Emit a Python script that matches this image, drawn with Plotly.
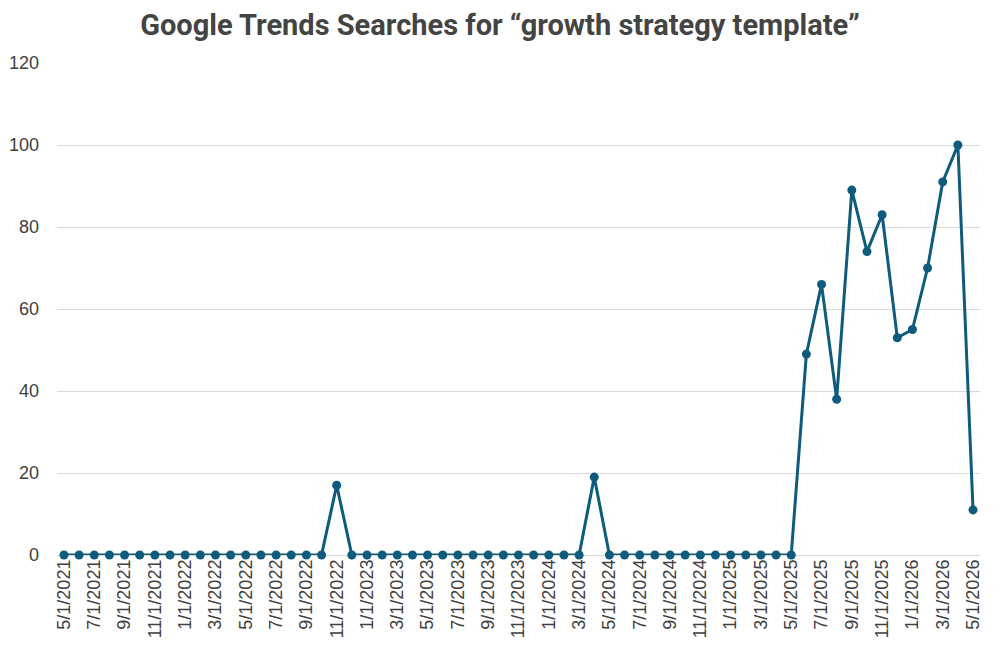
import plotly.graph_objects as go

months = []
y, m = 2021, 5
for _ in range(61):
    months.append(f"{m}/1/{y}")
    m += 1
    if m > 12:
        m = 1
        y += 1

values = ([0] * 18 + [17] + [0] * 16 + [19] + [0] * 13 +
          [49, 66, 38, 89, 74, 83, 53, 55, 70, 91, 100, 11])

tick_labels = months[::2]
y_ticks = [0, 20, 40, 60, 80, 100, 120]

x_idx = list(range(len(months)))

fig = go.Figure()
fig.add_trace(go.Scatter(
    x=x_idx, y=values, mode="lines+markers",
    line=dict(color="#0E5B7C", width=3),
    marker=dict(color="#0E5B7C", size=9),
    cliponaxis=False,
    hovertext=months,
))

fig.update_layout(
    width=1000, height=654,
    margin=dict(l=57, r=20, t=63, b=99),
    paper_bgcolor="white", plot_bgcolor="white",
    title=dict(
        text="<b>Google Trends Searches for \u201cgrowth strategy template\u201d</b>",
        x=0.5, xanchor="center", y=0.962, yanchor="middle",
        font=dict(family="Roboto, sans-serif", size=29, color="#444444"),
    ),
    showlegend=False,
    xaxis=dict(
        range=[-0.46, 60.46],
        tickmode="array",
        tickvals=x_idx[::2],
        ticktext=tick_labels,
        tickangle=-90,
        tickfont=dict(family="Liberation Sans", size=18, color="#404040"),
        showgrid=False, zeroline=False, showline=False,
        ticks="", automargin=False,
    ),
    yaxis=dict(
        range=[0, 120],
        tickvals=y_ticks,
        tickfont=dict(family="Liberation Sans", size=18, color="#404040"),
        showgrid=True, gridcolor="#D9D9D9", gridwidth=1,
        zeroline=True, zerolinecolor="#D9D9D9", zerolinewidth=1,
        showline=False, ticks="", ticklabelstandoff=17, automargin=False,
    ),
)

fig.write_html("out.html")
